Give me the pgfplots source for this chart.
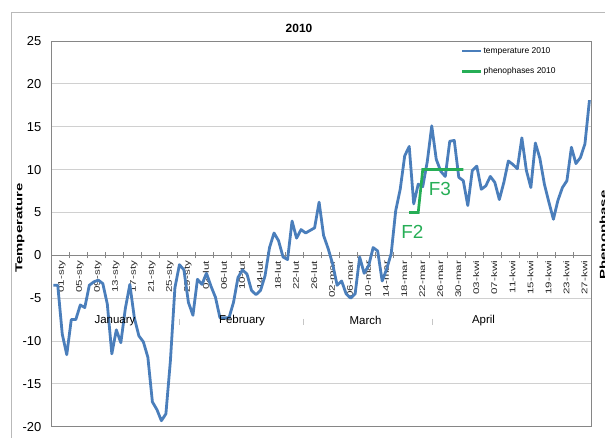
\documentclass[border=0pt]{standalone}
\usepackage{pgfplots}
\pgfplotsset{compat=1.18}
\usepackage{pgfplotstable}
\usepackage{graphicx}
\usepackage{fontspec}
\setmainfont{Liberation Sans}

\definecolor{tempblue}{RGB}{74,126,187}
\definecolor{phgreen}{RGB}{38,174,86}
\definecolor{gridgray}{RGB}{208,208,208}
\definecolor{framegray}{RGB}{134,134,134}

\newcommand{\xl}[1]{\scalebox{1.42}[1]{#1}}

% daily mean temperature, day 0 = 1 January 2010
\pgfplotstableread{
d t
0 -3.5
1 -3.5
2 -9.2
3 -11.6
4 -7.5
5 -7.5
6 -5.8
7 -6.1
8 -3.5
9 -3.1
10 -2.9
11 -3.3
12 -5.7
13 -11.5
14 -8.7
15 -10.2
16 -6.2
17 -3.4
18 -7.3
19 -9.4
20 -10.1
21 -11.9
22 -17.1
23 -18.0
24 -19.3
25 -18.5
26 -12.3
27 -3.8
28 -1.1
29 -1.7
30 -5.5
31 -7.0
32 -2.8
33 -3.4
34 -2.1
35 -3.6
36 -4.9
37 -7.3
38 -7.3
39 -7.3
40 -5.5
41 -2.6
42 -1.7
43 -2.2
44 -4.1
45 -4.6
46 -4.1
47 -2.4
48 0.9
49 2.6
50 1.7
51 -0.2
52 -0.5
53 4.0
54 2.0
55 3.0
56 2.6
57 2.9
58 3.2
59 6.2
60 2.3
61 0.8
62 -1.0
63 -3.5
64 -3.0
65 -4.5
66 -5.0
67 -4.5
68 -0.2
69 -2.1
70 -1.2
71 0.9
72 0.5
73 -3.0
74 -1.6
75 0.2
76 5.2
77 7.7
78 11.6
79 12.7
80 6.0
81 8.3
82 8.0
83 10.9
84 15.1
85 11.2
86 9.8
87 9.2
88 13.3
89 13.4
90 9.1
91 8.7
92 5.8
93 9.9
94 10.4
95 7.7
96 8.1
97 9.2
98 8.5
99 6.5
100 8.5
101 11.0
102 10.6
103 10.1
104 13.7
105 9.9
106 7.9
107 13.1
108 11.3
109 8.3
110 6.2
111 4.2
112 6.4
113 7.9
114 8.7
115 12.6
116 10.7
117 11.4
118 13.0
119 18.1
}\temps

\begin{document}
\begin{tikzpicture}
% chart area frame (partly cut off)
\draw[gray!55, line width=0.8bp] (11bp,-440bp) -- (11bp,-12.7bp) -- (607bp,-12.7bp);

\begin{axis}[
    at={(51bp,-426.7bp)}, anchor=south west,
    width=540.7bp, height=385.7bp, scale only axis,
    xmin=-0.5, xmax=119.5,
    ymin=-20, ymax=25,
    axis x line=middle, axis y line=left,
    axis line style={-, draw=framegray, line width=0.6bp},
    clip mode=individual,
    ytick={-20,-15,...,25},
    ymajorgrids,
    major grid style={gridgray, line width=0.8bp},
    ytick style={draw=none},
    yticklabel style={font=\fontsize{13}{14}\selectfont, xshift=-4bp},
    /pgf/number format/assume math mode=true,
    xtick={0,4,...,116},
    xticklabels={\xl{01-sty},\xl{05-sty},\xl{09-sty},\xl{13-sty},\xl{17-sty},\xl{21-sty},\xl{25-sty},\xl{29-sty},
        \xl{02-lut},\xl{06-lut},\xl{10-lut},\xl{14-lut},\xl{18-lut},\xl{22-lut},\xl{26-lut},
        \xl{02-mar},\xl{06-mar},\xl{10-mar},\xl{14-mar},\xl{18-mar},\xl{22-mar},\xl{26-mar},\xl{30-mar},
        \xl{03-kwi},\xl{07-kwi},\xl{11-kwi},\xl{15-kwi},\xl{19-kwi},\xl{23-kwi},\xl{27-kwi}},
    xticklabel style={rotate=90, anchor=east, font=\fontsize{8.2}{9}\selectfont, yshift=-8.5bp, text=black!85},
    major x tick style={draw=none},
    minor xtick={-0.5,3.5,...,119.5},
    minor tick length=6bp,
    tick align=center,
    minor x tick style={draw=framegray, line width=0.6bp},
    legend style={at={(rel axis cs:0.752,0.992)}, anchor=north west, draw=none, fill=none,
        font=\fontsize{8.5}{10}\selectfont, row sep=11bp,
        nodes={inner xsep=1bp, inner ysep=1bp}},
    legend cell align=left,
    legend image code/.code={\draw[#1] (0bp,0bp) -- (19bp,0bp);},
]
\addplot[tempblue, line width=2.8bp, line join=round] table[x=d, y=t] {\temps};
\addlegendentry{temperature 2010}
\addplot[phgreen, line width=2.7bp] coordinates {
    (79,5) (80,5) (81,5) (82,10) (83,10) (84,10) (85,10) (86,10)
    (87,10) (88,10) (89,10) (90,10) (91,10)
};
\addlegendentry{phenophases 2010}

\node[phgreen, font=\fontsize{19}{20}\selectfont] at (axis cs:79.7,2.68) {F2};
\node[phgreen, font=\fontsize{19}{20}\selectfont] at (axis cs:85.8,7.78) {F3};

\node[font=\fontsize{11.5}{12}\selectfont] at (axis cs:13.7,-7.64) {January};
\node[font=\fontsize{11.5}{12}\selectfont] at (axis cs:41.9,-7.64) {February};
\node[font=\fontsize{11.5}{12}\selectfont] at (axis cs:69.3,-7.64) {March};
\node[font=\fontsize{11.5}{12}\selectfont] at (axis cs:95.5,-7.64) {April};
\draw[gray!45, line width=0.6bp] (axis cs:27.9,-7.4) -- (axis cs:27.9,-8.1);
\draw[gray!45, line width=0.6bp] (axis cs:55.5,-7.4) -- (axis cs:55.5,-8.1);
\draw[gray!45, line width=0.6bp] (axis cs:84.2,-7.4) -- (axis cs:84.2,-8.1);
\end{axis}

% plot area frame
\draw[framegray, line width=0.8bp] (51bp,-426.7bp) rectangle (591.7bp,-41bp);

\node[font=\bfseries\fontsize{12}{13}\selectfont] at (299bp,-28bp) {2010};
\node[rotate=90, font=\bfseries\fontsize{10}{11}\selectfont] at (20bp,-228bp) {\scalebox{1.5}[1]{Temperature}};
\node[rotate=90, anchor=north, inner sep=0pt, font=\bfseries\fontsize{10}{11}\selectfont] at (599.5bp,-235bp) {\scalebox{1.5}[1]{Phenophase}};

\pgfresetboundingbox
\useasboundingbox (0bp,0bp) rectangle (605bp,-438bp);
\end{tikzpicture}
\end{document}
